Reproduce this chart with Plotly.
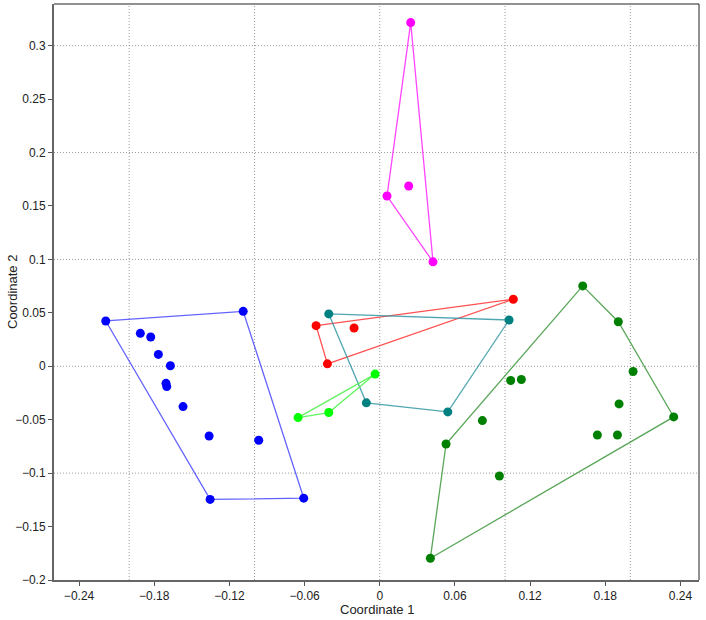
import plotly.graph_objects as go

# ---- data ----
blue_x = [-0.2187, -0.1090, -0.1911, -0.1828, -0.1767, -0.1671, -0.1706, -0.1700, -0.1570, -0.1362, -0.0966, -0.1354, -0.0607]
blue_y = [0.0424, 0.0514, 0.0308, 0.0274, 0.0111, 0.0005, -0.0160, -0.0190, -0.0377, -0.0652, -0.0692, -0.1246, -0.1234]

red_x = [0.1066, -0.0508, -0.0205, -0.0418]
red_y = [0.0627, 0.0380, 0.0358, 0.0023]

teal_x = [-0.0407, 0.1032, -0.0107, 0.0543]
teal_y = [0.0490, 0.0433, -0.0342, -0.0427]

lime_x = [-0.0037, -0.0407, -0.0652]
lime_y = [-0.0073, -0.0433, -0.0480]

magenta_x = [0.0247, 0.0058, 0.0231, 0.0425]
magenta_y = [0.3216, 0.1593, 0.1687, 0.0977]

dgreen_x = [0.1620, 0.1904, 0.2022, 0.2346, 0.1910, 0.1737, 0.1897, 0.1045, 0.1130, 0.0819, 0.0529, 0.0955, 0.0404]
dgreen_y = [0.0752, 0.0417, -0.0049, -0.0474, -0.0352, -0.0643, -0.0643, -0.0133, -0.0124, -0.0508, -0.0727, -0.1027, -0.1796]

x_grid = [-0.2, -0.1, 0.0, 0.1, 0.2]
y_grid = [-0.1, 0.0, 0.1, 0.2, 0.3]

groups = [
    (blue_x, blue_y, "#0000ff", "rgba(70,70,255,0.85)"),
    (red_x, red_y, "#ff0000", "rgba(255,50,50,0.85)"),
    (teal_x, teal_y, "#008080", "rgba(50,150,165,0.85)"),
    (lime_x, lime_y, "#00ff00", "rgba(70,240,70,0.85)"),
    (magenta_x, magenta_y, "#ff00ff", "rgba(255,50,255,0.9)"),
    (dgreen_x, dgreen_y, "#008000", "rgba(60,150,60,0.85)"),
]


def convex_hull(xs, ys):
    pts = sorted(set(zip(xs, ys)))
    if len(pts) <= 2:
        return pts

    def cross(o, a, b):
        return (a[0] - o[0]) * (b[1] - o[1]) - (a[1] - o[1]) * (b[0] - o[0])

    lower, upper = [], []
    for p in pts:
        while len(lower) >= 2 and cross(lower[-2], lower[-1], p) <= 0:
            lower.pop()
        lower.append(p)
    for p in reversed(pts):
        while len(upper) >= 2 and cross(upper[-2], upper[-1], p) <= 0:
            upper.pop()
        upper.append(p)
    return lower[:-1] + upper[:-1]


fig = go.Figure()

for xs, ys, mcol, lcol in groups:
    hull = convex_hull(xs, ys)
    hull = hull + [hull[0]]
    fig.add_trace(go.Scatter(
        x=[p[0] for p in hull], y=[p[1] for p in hull],
        mode="lines", line=dict(color=lcol, width=1.3),
        hoverinfo="skip", showlegend=False,
    ))

for xs, ys, mcol, lcol in groups:
    fig.add_trace(go.Scatter(
        x=xs, y=ys, mode="markers",
        marker=dict(color=mcol, size=9, line=dict(width=0)),
        showlegend=False,
    ))

grid_line = dict(color="#9a9a9a", width=1, dash="1px,2px")
shapes = []
for gx in x_grid:
    shapes.append(dict(type="line", xref="x", yref="paper", x0=gx, x1=gx, y0=0, y1=1,
                       line=grid_line, layer="below"))
for gy in y_grid:
    shapes.append(dict(type="line", xref="paper", yref="y", x0=0, x1=1, y0=gy, y1=gy,
                       line=grid_line, layer="below"))
# top and right frame
shapes.append(dict(type="line", xref="paper", yref="paper", x0=0, x1=1, y0=1, y1=1,
                   line=dict(color="#222222", width=1)))
shapes.append(dict(type="line", xref="paper", yref="paper", x0=1, x1=1, y0=0, y1=1,
                   line=dict(color="#222222", width=1)))

ML, MR, MT, MB = 54, 7, 4, 40
PW = 706 - ML - MR
PH = 620 - MT - MB

annotations = [
    dict(text="Coordinate 1", xref="paper", yref="paper", x=0.5, y=-29 / PH,
         xanchor="center", yanchor="middle", showarrow=False, font=dict(size=13)),
    dict(text="Coordinate 2", xref="paper", yref="paper", x=-42 / PW, y=0.5,
         xanchor="center", yanchor="middle", showarrow=False, textangle=-90,
         font=dict(size=13)),
]

fig.update_layout(
    width=706, height=620,
    margin=dict(l=ML, r=MR, t=MT, b=MB),
    paper_bgcolor="white", plot_bgcolor="white",
    font=dict(family="Liberation Sans, Arial, sans-serif", size=12, color="#222222"),
    shapes=shapes,
    annotations=annotations,
    xaxis=dict(
        range=[-0.260, 0.2548], tickmode="linear", tick0=0, dtick=0.06,
        tickformat="~g", showgrid=False, zeroline=False, automargin=False,
        showline=True, linecolor="#666666", linewidth=2,
        ticks="outside", ticklen=4, tickcolor="#555555", tickwidth=1,
    ),
    yaxis=dict(
        range=[-0.2, 0.339], tickmode="linear", tick0=0, dtick=0.05,
        tickformat="~g", showgrid=False, zeroline=False, automargin=False,
        showline=True, linecolor="#666666", linewidth=2,
        ticks="outside", ticklen=4, tickcolor="#555555", tickwidth=1,
    ),
)

fig.write_html(
    "out.html",
    config={"displayModeBar": False},
    post_script="document.body.style.margin='0';document.body.style.overflow='hidden';",
)
